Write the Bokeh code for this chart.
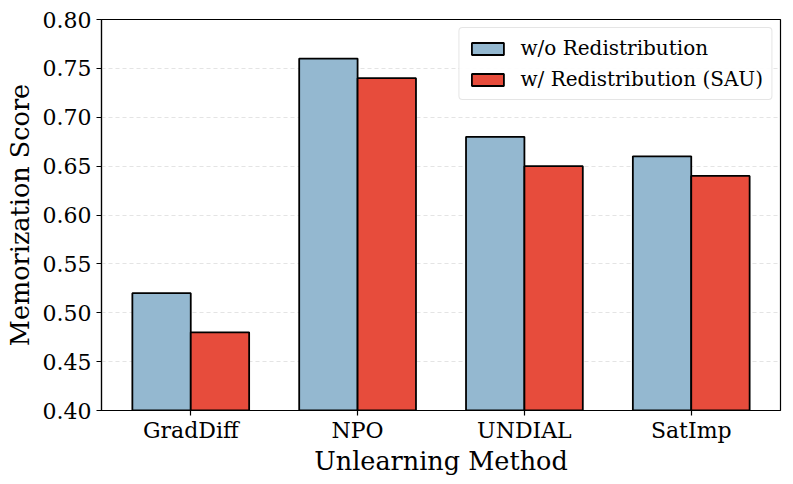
from bokeh.plotting import figure
from bokeh.models import ColumnDataSource, Legend, LegendItem, Range1d, NumeralTickFormatter
from bokeh.models.tickers import FixedTicker
from bokeh.embed import file_html
from bokeh.resources import INLINE
from bokeh.transform import dodge

methods = ["GradDiff", "NPO", "UNDIAL", "SatImp"]
wo_redistribution = [0.52, 0.76, 0.68, 0.66]
w_redistribution = [0.48, 0.74, 0.65, 0.64]
y_ticks = [0.40, 0.45, 0.50, 0.55, 0.60, 0.65, 0.70, 0.75, 0.80]

xs = list(range(len(methods)))
width = 0.35
src = ColumnDataSource(dict(x=xs, wo=wo_redistribution, w=w_redistribution))

FONT = "DejaVu Serif"
p = figure(width=785, height=484, output_backend="svg", toolbar_location=None,
           x_range=Range1d(-0.535, 3.535), y_range=Range1d(0.40, 0.80),
           min_border_left=101, min_border_right=5, min_border_top=19, min_border_bottom=74)

r1 = p.vbar(x=dodge("x", -width / 2), top="wo", bottom=0.40, width=width, source=src,
            fill_color="#94B8D0", line_color="black", line_width=1.8)
r2 = p.vbar(x=dodge("x", width / 2), top="w", bottom=0.40, width=width, source=src,
            fill_color="#E74C3C", line_color="black", line_width=1.8)

p.xaxis.ticker = FixedTicker(ticks=xs)
p.xaxis.major_label_overrides = {i: m for i, m in enumerate(methods)}
p.yaxis.ticker = FixedTicker(ticks=y_ticks)
p.yaxis.formatter = NumeralTickFormatter(format="0.00")

for ax in (p.xaxis, p.yaxis):
    ax.major_label_text_font = FONT
    ax.major_label_text_font_size = "22px"
    ax.major_label_text_color = "black"
    ax.axis_label_text_font = FONT
    ax.axis_label_text_font_size = "25.5px"
    ax.axis_label_text_font_style = "normal"
    ax.axis_label_text_color = "black"
    ax.axis_line_color = "black"
    ax.axis_line_width = 1.2
    ax.major_tick_line_color = "black"
    ax.major_tick_line_width = 1.2
    ax.major_tick_out = 5
    ax.major_tick_in = 0
    ax.minor_tick_line_color = None

p.xaxis.axis_label = "Unlearning Method"
p.yaxis.axis_label = "Memorization Score"
p.xaxis.axis_label_standoff = 0
p.yaxis.axis_label_standoff = 5
p.xaxis.major_label_standoff = 2
p.yaxis.major_label_standoff = 5

p.xgrid.grid_line_color = None
p.ygrid.grid_line_color = "#dddddd"
p.ygrid.grid_line_dash = "4 3"
p.ygrid.grid_line_width = 1
p.ygrid.grid_line_alpha = 0.8

p.outline_line_color = "black"
p.outline_line_width = 1.2
p.outline_line_alpha = 1.0

legend = Legend(items=[LegendItem(label="w/o Redistribution", renderers=[r1]),
                       LegendItem(label="w/ Redistribution (SAU)", renderers=[r2])],
                location="top_right")
legend.label_text_font = FONT
legend.label_text_font_size = "20px"
legend.label_text_color = "black"
legend.glyph_width = 40
legend.glyph_height = 15
legend.label_height = 22
legend.label_standoff = 13
legend.spacing = 7
legend.padding = 8
legend.margin = 8
legend.border_line_color = "#cccccc"
legend.border_line_width = 1
legend.border_radius = 4
legend.background_fill_alpha = 0.9
p.add_layout(legend)

open("out.html", "w").write(file_html(p, INLINE))
